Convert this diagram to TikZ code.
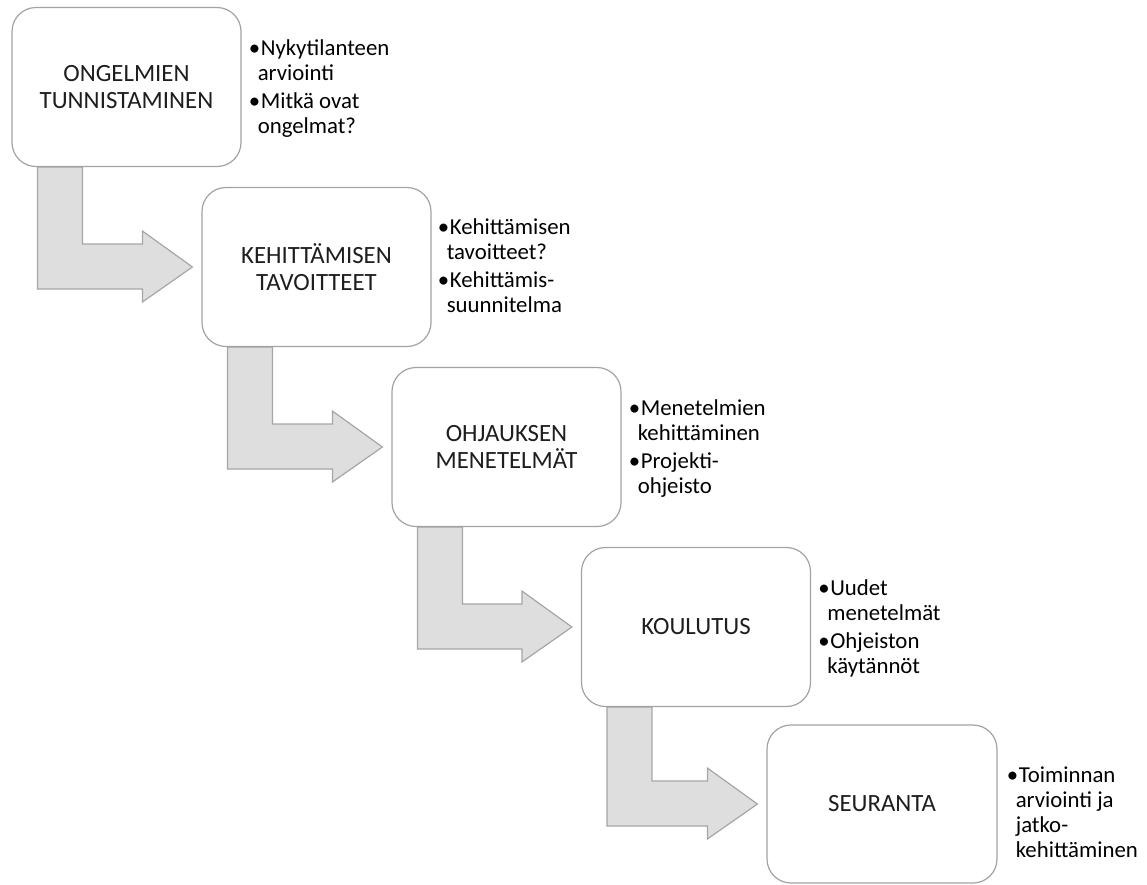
\documentclass[tikz,border=0pt]{standalone}
\usepackage{fontspec}
\setmainfont{Carlito}
\usetikzlibrary{calc,backgrounds}
\definecolor{boxline}{HTML}{A3A3A3}
\definecolor{arrowfill}{HTML}{DEDEDE}
\definecolor{arrowline}{HTML}{A6A6A6}
\definecolor{labeltext}{HTML}{1E1E1E}
\newcommand{\notebullet}{\makebox[9pt][l]{\hspace*{-3pt}•}}
\newcommand{\noteindent}{\hspace*{6pt}}
\newcommand{\notestrut}{\rule{0pt}{18pt}}
\newcommand{\stagearrow}[2]{%
  \coordinate (#1t) at ($(#2.west)+(-9,0)$);
  \coordinate (#1a) at ($(#1.south west)+(26,0)$);
  \coordinate (#1b) at ($(#1.south west)+(71,0)$);
  \coordinate (#1lo) at ($(#1t)+(0,22)$);
  \coordinate (#1hi) at ($(#1t)+(0,-23)$);
  \draw[bentarrow] (#1a) -- (#1a |- #1lo) -- ($(#1lo)+(-50,0)$) -- ($(#1t)+(-50,35)$)
    -- (#1t) -- ($(#1t)+(-50,-36)$) -- ($(#1hi)+(-50,0)$) -- (#1b |- #1hi) -- (#1b) -- cycle;}
\begin{document}
\begin{tikzpicture}[x=1pt,y=-1pt,
  stagebox/.style={draw=boxline, fill=white, line width=1.2pt, rounded corners=24pt,
    minimum width=229pt, minimum height=159pt, inner sep=0pt, align=center,
    text=labeltext, font=\fontsize{24.8}{27.5}\selectfont},
  notes/.style={anchor=north west, inner sep=0pt, align=left,
    font=\fontsize{22.8}{25}\selectfont, text=black},
  bentarrow/.style={draw=arrowline, fill=arrowfill, line width=1.2pt, line join=miter}]
\useasboundingbox (0,0) rectangle (1147,884);

\node[stagebox] (b1) at (126.5,87) {ONGELMIEN\\TUNNISTAMINEN};
\node[stagebox] (b2) at (316.5,267) {KEHITTÄMISEN\\TAVOITTEET};
\node[stagebox] (b3) at (506.5,447) {OHJAUKSEN\\MENETELMÄT};
\node[stagebox] (b4) at (696,627) {KOULUTUS};
\node[stagebox, minimum width=230pt, minimum height=158pt] (b5) at (882,804) {SEURANTA};

\node[notes] (n1) at ($(b1.north east)+(10,30)$)
  {\notestrut\notebullet Nykytilanteen\\\noteindent arviointi\\[3pt]\notebullet Mitkä ovat\\\noteindent ongelmat?};
\node[notes] (n2) at ($(b2.north east)+(9,29)$)
  {\notestrut\notebullet Kehittämisen\\\noteindent tavoitteet?\\[3pt]\notebullet Kehittämis-\\\noteindent suunnitelma};
\node[notes] (n3) at ($(b3.north east)+(10,30)$)
  {\notestrut\notebullet Menetelmien\\\noteindent kehittäminen\\[3pt]\notebullet Projekti-\\\noteindent ohjeisto};
\node[notes] (n4) at ($(b4.north east)+(10,30)$)
  {\notestrut\notebullet Uudet\\\noteindent menetelmät\\[3pt]\notebullet Ohjeiston\\\noteindent käytännöt};
\node[notes] (n5) at ($(b5.north east)+(12,40)$)
  {\notestrut\notebullet Toiminnan\\\noteindent arviointi ja\\\noteindent jatko-\\\noteindent kehittäminen};

\begin{pgfonlayer}{background}
  \stagearrow{b1}{b2}
  \stagearrow{b2}{b3}
  \stagearrow{b3}{b4}
  \stagearrow{b4}{b5}
\end{pgfonlayer}
\end{tikzpicture}
\end{document}
